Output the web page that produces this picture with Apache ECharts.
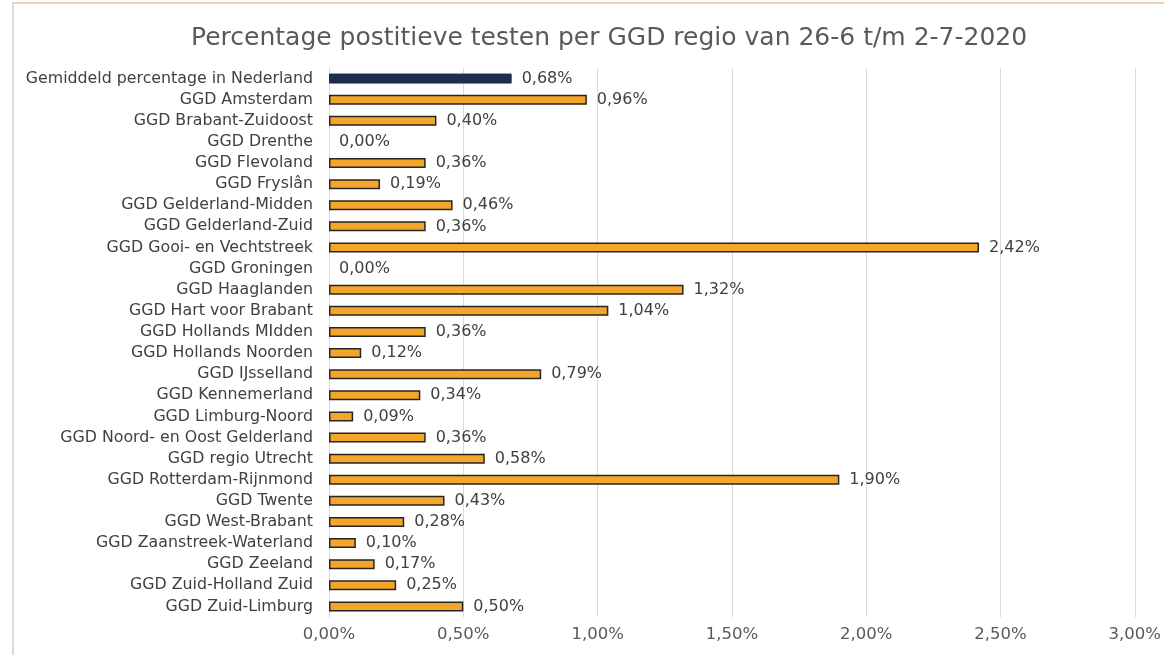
<!DOCTYPE html>
<html>
<head>
<meta charset="utf-8">
<script src="https://cdn.jsdelivr.net/npm/echarts@6/dist/echarts.min.js"></script>
<style>
  html, body { margin: 0; padding: 0; background: #fff; }
  #frame { position: absolute; left: 12px; top: 2px; width: 1152px; height: 653px;
           border-top: 2px solid #e8d6b3; border-left: 2px solid #dcdcdc; box-sizing: border-box; }
  #main { position: absolute; left: 0; top: 0; width: 1164px; height: 655px; }
</style>
</head>
<body>
<div id="frame"></div>
<div id="main"></div>
<script>
// regio's van boven naar beneden
const categories = [
  "Gemiddeld percentage in Nederland",
  "GGD Amsterdam",
  "GGD Brabant-Zuidoost",
  "GGD Drenthe",
  "GGD Flevoland",
  "GGD Fryslân",
  "GGD Gelderland-Midden",
  "GGD Gelderland-Zuid",
  "GGD Gooi- en Vechtstreek",
  "GGD Groningen",
  "GGD Haaglanden",
  "GGD Hart voor Brabant",
  "GGD Hollands MIdden",
  "GGD Hollands Noorden",
  "GGD IJsselland",
  "GGD Kennemerland",
  "GGD Limburg-Noord",
  "GGD Noord- en Oost Gelderland",
  "GGD regio Utrecht",
  "GGD Rotterdam-Rijnmond",
  "GGD Twente",
  "GGD West-Brabant",
  "GGD Zaanstreek-Waterland",
  "GGD Zeeland",
  "GGD Zuid-Holland Zuid",
  "GGD Zuid-Limburg"
];
// percentages
const values = [
  0.68, 0.96, 0.40, 0.00, 0.36, 0.19, 0.46, 0.36, 2.42, 0.00,
  1.32, 1.04, 0.36, 0.12, 0.79, 0.34, 0.09, 0.36, 0.58, 1.90,
  0.43, 0.28, 0.10, 0.17, 0.25, 0.50
];
const xTicks = [0, 0.5, 1, 1.5, 2, 2.5, 3];

const fmt = v => v.toFixed(2).replace(".", ",") + "%";
const font = "DejaVu Sans";

const chart = echarts.init(document.getElementById("main"));
chart.setOption({
  animation: false,
  title: {
    text: "Percentage postitieve testen per GGD regio van 26-6 t/m 2-7-2020",
    left: 186, top: 21,
    textStyle: { fontFamily: font, fontSize: 25, fontWeight: "normal", color: "#595959" }
  },
  grid: { left: 329, right: 29, top: 68, bottom: 38, containLabel: false },
  xAxis: {
    type: "value",
    min: xTicks[0], max: xTicks[xTicks.length - 1], interval: 0.5,
    axisLine: { show: false },
    axisTick: { show: false },
    splitLine: { lineStyle: { color: "#d9d9d9", width: 1 } },
    axisLabel: { fontFamily: font, fontSize: 16.5, color: "#595959", margin: 9, formatter: v => fmt(v) }
  },
  yAxis: {
    type: "category",
    inverse: true,
    data: categories,
    axisLine: { lineStyle: { color: "#d9d9d9" } },
    axisTick: { show: false },
    axisLabel: { fontFamily: font, fontSize: 15.8, color: "#404040", margin: 16 }
  },
  series: [{
    type: "bar",
    barWidth: 10,
    data: values.map((v, i) => ({
      value: v,
      itemStyle: i === 0
        ? { color: "#1f2d50", borderColor: "#1f2d50", borderWidth: 1 }
        : { color: "#f4a62a", borderColor: "#262626", borderWidth: v === 0 ? 0 : 1.5 }
    })),
    label: {
      show: true, position: "right", distance: 10,
      fontFamily: font, fontSize: 16, color: "#404040",
      formatter: p => fmt(p.value)
    }
  }]
});
</script>
</body>
</html>
